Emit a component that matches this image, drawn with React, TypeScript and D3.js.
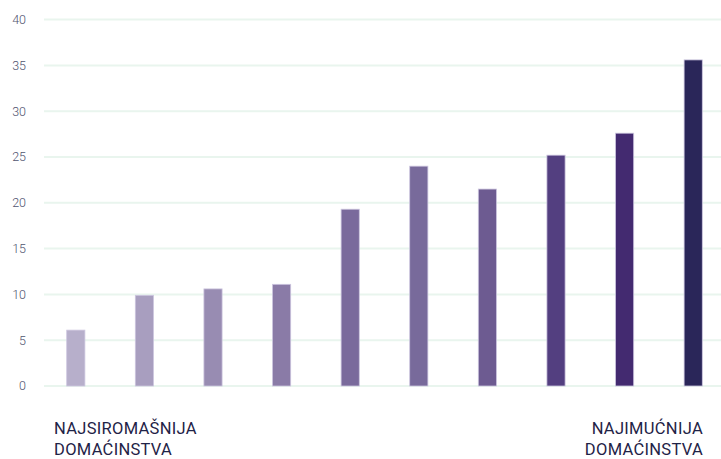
import React, { useEffect, useRef } from 'react';
import * as d3 from 'd3';

const groups = ['1', '2', '3', '4', '5', '6', '7', '8', '9', '10'];
const values = [6.1, 9.9, 10.6, 11.1, 19.3, 24.0, 21.5, 25.2, 27.6, 35.6];
const barColors = [
  '#b7afcb', '#a89ebf', '#988cb2', '#8a7ba7', '#7a6a9c',
  '#786a9b', '#6d5b91', '#533f80', '#432a70', '#2a2659',
];
const yTicks = [0, 5, 10, 15, 20, 25, 30, 35, 40];
const leftLabel = ['NAJSIROMAŠNIJA', 'DOMAĆINSTVA'];
const rightLabel = ['NAJIMUĆNIJA', 'DOMAĆINSTVA'];

export default function App() {
  const svgRef = useRef<SVGSVGElement>(null);

  useEffect(() => {
    if (!svgRef.current) return;
    const svg = d3.select(svgRef.current);
    svg.selectAll('*').remove();

    const x = d3.scaleBand<string>()
      .domain(groups)
      .range([41.5, 727.5])
      .paddingInner(0.735)
      .paddingOuter(0.3675);
    const y = d3.scaleLinear().domain([0, 40]).range([386, 19.6]);

    // grid
    svg.append('g')
      .selectAll('line')
      .data(yTicks)
      .join('line')
      .attr('x1', 44)
      .attr('x2', 721)
      .attr('y1', (d) => y(d))
      .attr('y2', (d) => y(d))
      .attr('stroke', '#e9f5ee')
      .attr('stroke-width', 2);

    // tick labels
    svg.append('g')
      .selectAll('text')
      .data(yTicks)
      .join('text')
      .attr('x', 26)
      .attr('y', (d) => y(d))
      .attr('dy', '0.35em')
      .attr('text-anchor', 'end')
      .style('font-family', 'Roboto, sans-serif')
      .style('font-weight', 300)
      .style('font-size', '12.5px')
      .attr('fill', '#50546f')
      .text((d) => d);

    // bars
    svg.append('g')
      .selectAll('rect')
      .data(values)
      .join('rect')
      .attr('x', (_, i) => x(groups[i]) as number)
      .attr('width', x.bandwidth())
      .attr('y', (d) => y(d))
      .attr('height', (d) => y(0) - y(d))
      .attr('fill', (_, i) => barColors[i])
      .attr('stroke', '#cdc6df')
      .attr('stroke-width', 0.8);

    const lbl = (lines: string[], xPos: number, anchor: string) => {
      const t = svg.append('text')
        .attr('text-anchor', anchor)
        .style('font-family', 'Roboto, sans-serif')
        .style('font-size', '16.5px')
        .style('letter-spacing', '0.3px')
        .attr('fill', '#1f2347');
      lines.forEach((l, i) => {
        t.append('tspan').attr('x', xPos).attr('y', 434 + i * 21).text(l);
      });
    };
    lbl(leftLabel, 54, 'start');
    lbl(rightLabel, 703, 'end');
  }, []);

  return (
    <svg
      ref={svgRef}
      width={721}
      height={459}
      style={{ position: 'absolute', left: 0, top: 0, background: '#fff' }}
    />
  );
}
